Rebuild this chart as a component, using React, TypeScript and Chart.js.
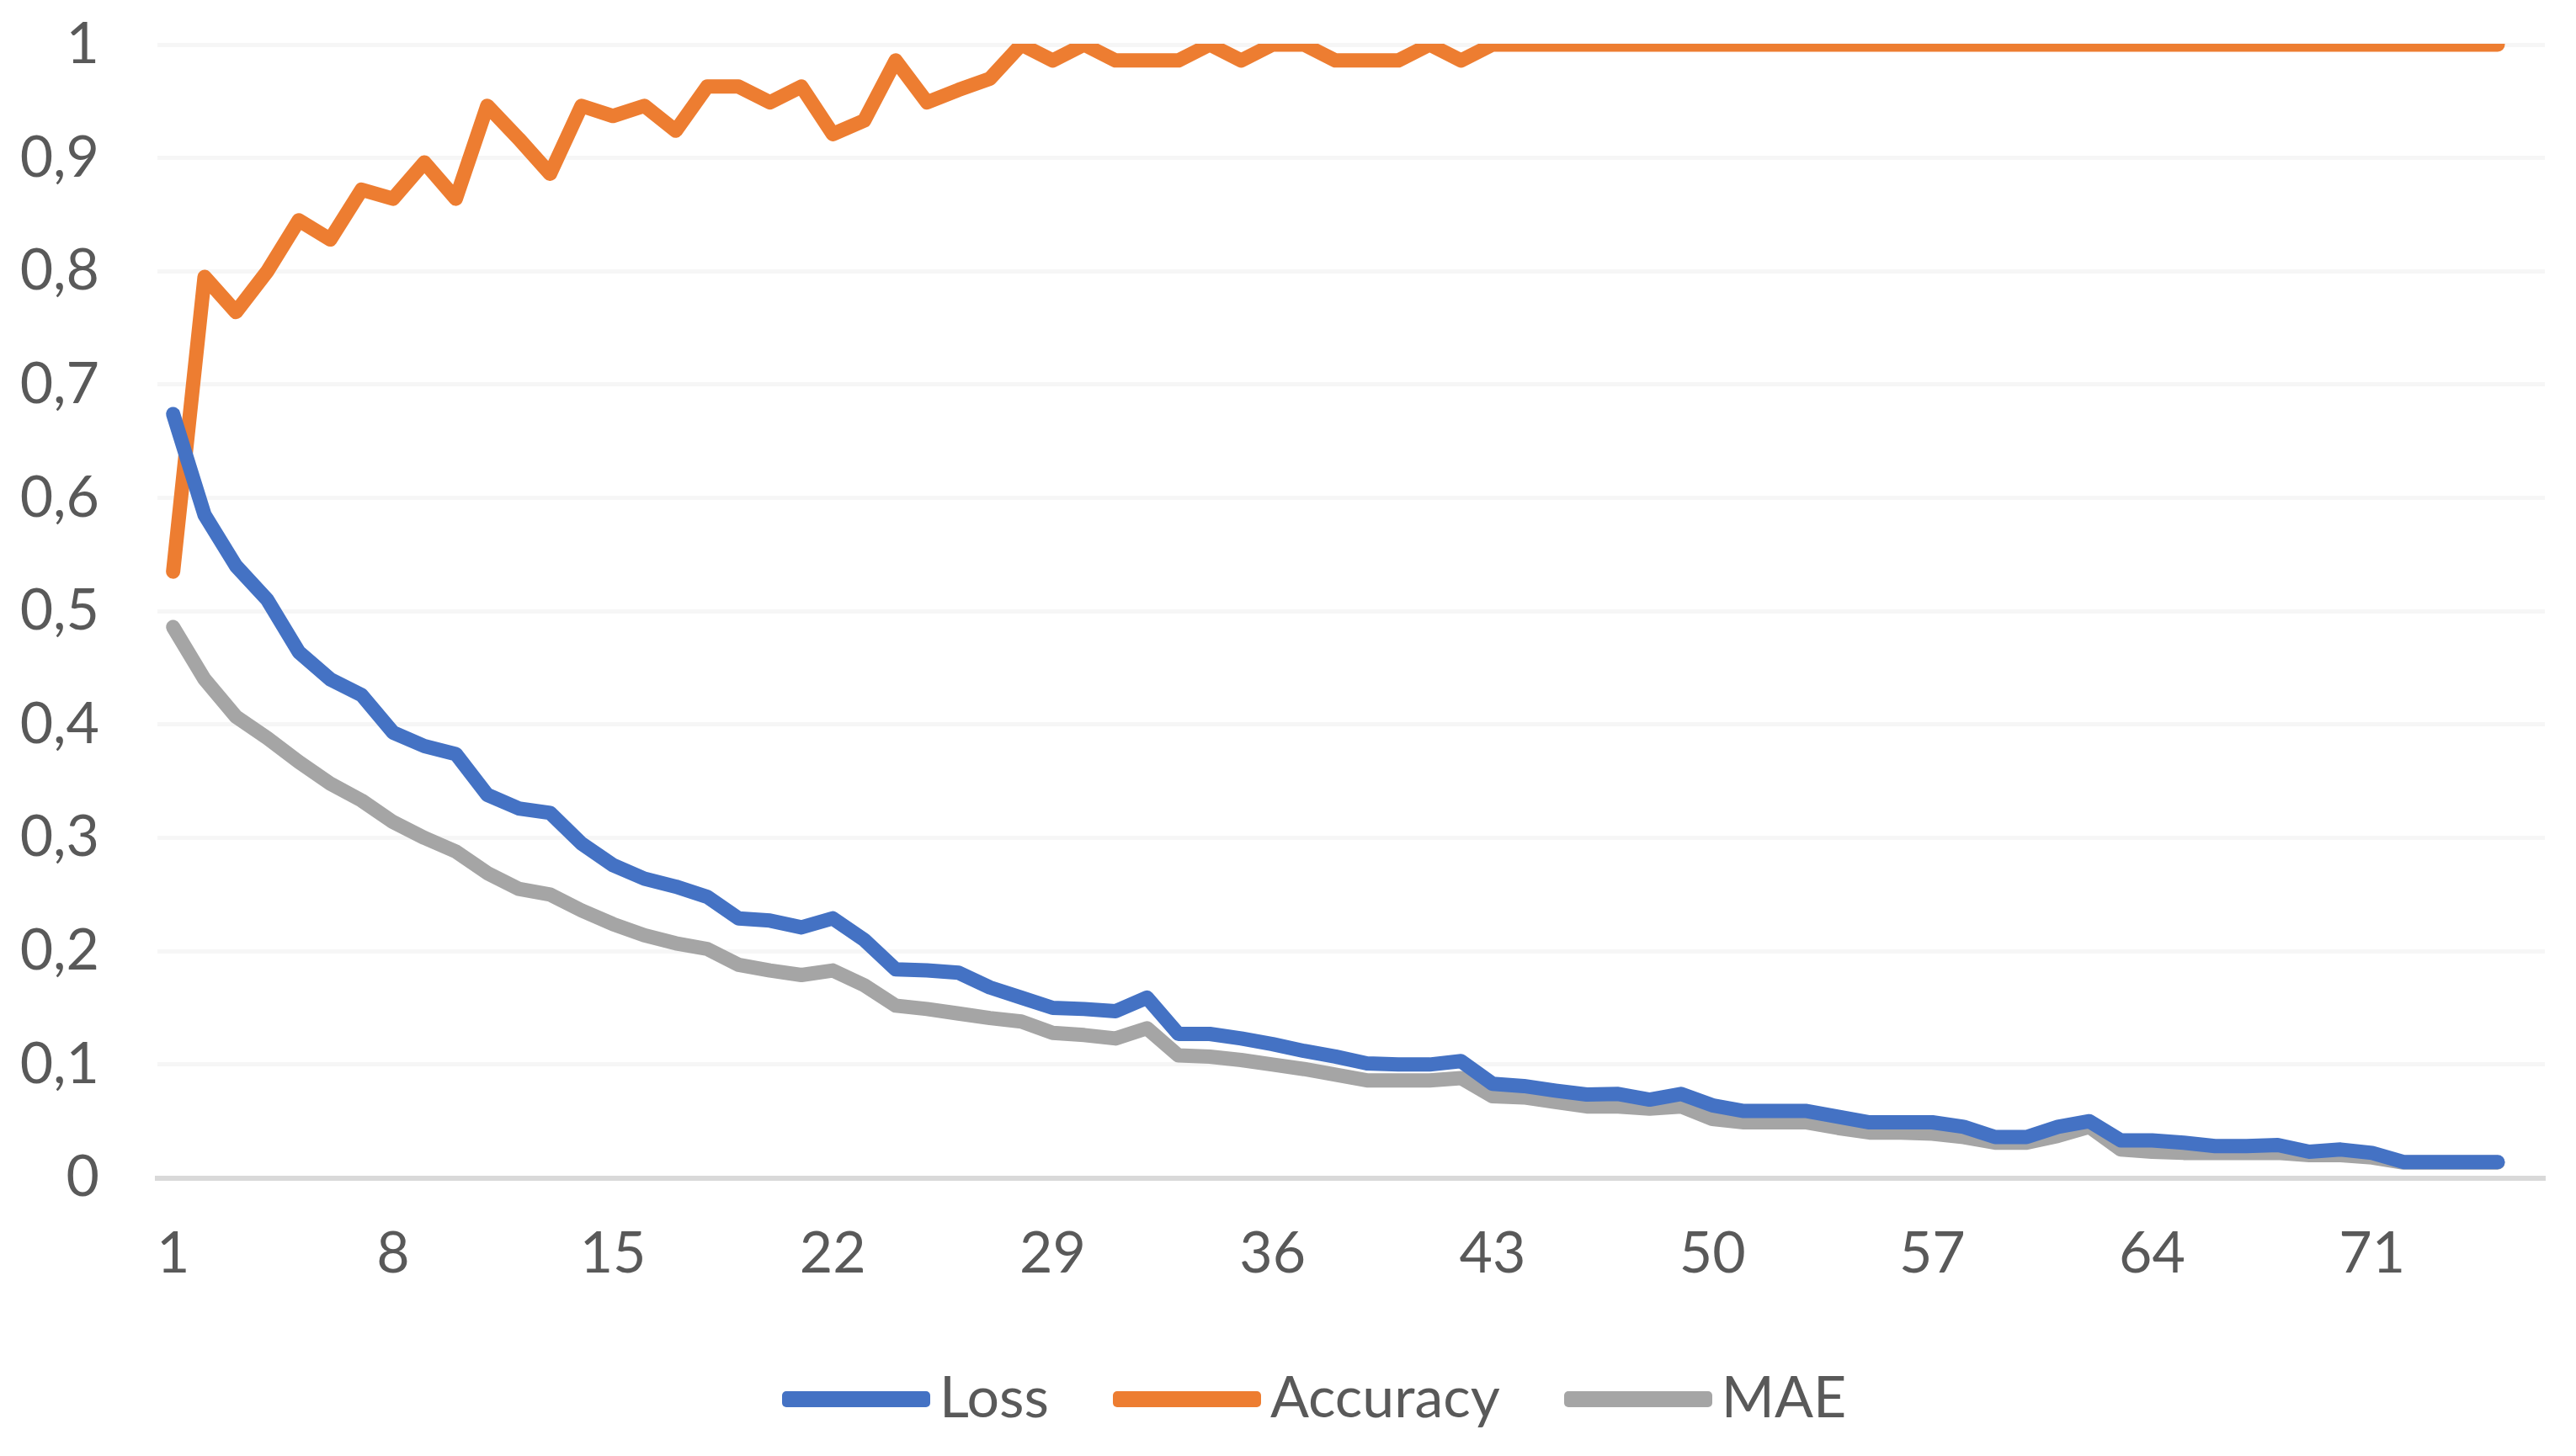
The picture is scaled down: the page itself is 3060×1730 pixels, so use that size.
import React, { useEffect, useRef } from 'react';
import { Chart, registerables } from 'chart.js';

Chart.register(...registerables);

// Categories (epochs) on the x axis
const epochs = [
  1, 2, 3, 4, 5, 6, 7, 8, 9, 10, 11, 12, 13, 14, 15, 16, 17, 18, 19, 20,
  21, 22, 23, 24, 25, 26, 27, 28, 29, 30, 31, 32, 33, 34, 35, 36, 37, 38, 39, 40,
  41, 42, 43, 44, 45, 46, 47, 48, 49, 50, 51, 52, 53, 54, 55, 56, 57, 58, 59, 60,
  61, 62, 63, 64, 65, 66, 67, 68, 69, 70, 71, 72, 73, 74, 75, 76,
];

// Which epochs get a visible tick label
const xTickEpochs = [1, 8, 15, 22, 29, 36, 43, 50, 57, 64, 71];

// Y tick labels (decimal comma)
const yTickLabels = ['0', '0,1', '0,2', '0,3', '0,4', '0,5', '0,6', '0,7', '0,8', '0,9', '1'];

const seriesNames = ['Loss', 'Accuracy', 'MAE'];
const seriesColors = ['#4472C4', '#ED7D31', '#A5A5A5'];

const loss = [
  0.674, 0.585, 0.540, 0.510, 0.464, 0.440, 0.426, 0.393, 0.381, 0.374,
  0.338, 0.326, 0.322, 0.295, 0.276, 0.264, 0.257, 0.248, 0.229, 0.227,
  0.221, 0.229, 0.210, 0.184, 0.183, 0.181, 0.168, 0.159, 0.150, 0.149,
  0.147, 0.159, 0.127, 0.127, 0.123, 0.118, 0.112, 0.107, 0.101, 0.100,
  0.100, 0.103, 0.083, 0.081, 0.077, 0.0735, 0.074, 0.069, 0.074, 0.064,
  0.059, 0.059, 0.059, 0.054, 0.049, 0.049, 0.049, 0.045, 0.036, 0.036,
  0.045, 0.050, 0.033, 0.033, 0.031, 0.028, 0.028, 0.029, 0.023, 0.025,
  0.022, 0.014, 0.014, 0.014, 0.014,
];

const accuracy = [
  0.535, 0.795, 0.764, 0.800, 0.845, 0.828, 0.872, 0.864, 0.896, 0.864,
  0.946, 0.917, 0.886, 0.946, 0.937, 0.946, 0.924, 0.963, 0.963, 0.949,
  0.963, 0.921, 0.933, 0.986, 0.949, 0.960, 0.970, 1.0, 0.986, 1.0,
  0.986, 0.986, 0.986, 1.0, 0.986, 1.0, 1.0, 0.986, 0.986, 0.986,
  1.0, 0.986, 1.0, 1.0, 1.0, 1.0, 1.0, 1.0, 1.0, 1.0,
  1.0, 1.0, 1.0, 1.0, 1.0, 1.0, 1.0, 1.0, 1.0, 1.0,
  1.0, 1.0, 1.0, 1.0, 1.0, 1.0, 1.0, 1.0, 1.0, 1.0,
  1.0, 1.0, 1.0, 1.0, 1.0,
];

const mae = [
  0.486, 0.440, 0.407, 0.388, 0.367, 0.348, 0.333, 0.314, 0.300, 0.288,
  0.269, 0.255, 0.250, 0.236, 0.224, 0.214, 0.207, 0.202, 0.188, 0.183,
  0.179, 0.183, 0.170, 0.152, 0.149, 0.145, 0.141, 0.138, 0.128, 0.126,
  0.123, 0.132, 0.108, 0.107, 0.104, 0.100, 0.096, 0.091, 0.086, 0.086,
  0.086, 0.088, 0.072, 0.071, 0.067, 0.063, 0.063, 0.061, 0.063, 0.052,
  0.049, 0.049, 0.049, 0.044, 0.040, 0.040, 0.039, 0.036, 0.031, 0.031,
  0.037, 0.045, 0.025, 0.023, 0.022, 0.022, 0.022, 0.022, 0.020, 0.020,
  0.018, 0.0135, 0.0135, 0.0135, 0.0135,
];

const seriesData = [loss, accuracy, mae];

const TEXT = '#595959';
const FONT = 'Lato';

export default function App() {
  const ref = useRef<HTMLCanvasElement | null>(null);

  useEffect(() => {
    const canvas = ref.current;
    if (!canvas) return;
    const chart = new Chart(canvas, {
      type: 'line',
      data: {
        labels: epochs.map(String),
        datasets: seriesNames.map((name, k) => ({
          label: name,
          data: seriesData[k],
          borderColor: seriesColors[k],
          backgroundColor: seriesColors[k],
          borderWidth: 17,
          pointRadius: 0,
          pointHoverRadius: 0,
          tension: 0,
          fill: false,
          borderJoinStyle: 'round' as const,
          borderCapStyle: 'round' as const,
          clip: { left: false, right: false, top: 1, bottom: false } as any,
        })),
      },
      options: {
        responsive: false,
        animation: false,
        devicePixelRatio: 1,
        layout: { padding: { top: 53, right: 37, left: 0, bottom: 0 } },
        plugins: {
          legend: { display: false },
          tooltip: { enabled: false },
        },
        scales: {
          x: {
            type: 'category',
            offset: true,
            grid: { display: false, drawTicks: false },
            border: { display: true, color: '#d9d9d9', width: 6 },
            ticks: {
              autoSkip: false,
              maxRotation: 0,
              minRotation: 0,
              padding: 50,
              color: TEXT,
              font: { family: FONT, size: 68 },
              callback: (_v: any, i: number) =>
                xTickEpochs.includes(epochs[i]) ? String(epochs[i]) : null,
            },
            afterFit: (s: any) => {
              s.height = 330.5;
              s.paddingLeft = 0;
              s.paddingRight = 0;
            },
          },
          y: {
            min: 0,
            max: 1,
            ticks: {
              stepSize: 0.1,
              padding: 69,
              color: TEXT,
              font: { family: FONT, size: 68 },
              callback: (_v: any, i: number) => yTickLabels[i],
            },
            grid: { color: '#f6f6f6', lineWidth: 5, drawTicks: false },
            border: { display: false },
            afterFit: (s: any) => {
              s.width = 187;
              s.paddingTop = 0;
              s.paddingBottom = 0;
            },
          },
        },
      },
    });
    return () => chart.destroy();
  }, []);

  return (
    <div
      style={{
        position: 'absolute',
        left: 0,
        top: 0,
        width: 3060,
        height: 1730,
        background: '#ffffff',
        overflow: 'hidden',
      }}
    >
      <canvas
        ref={ref}
        width={3060}
        height={1730}
        style={{ position: 'absolute', left: 0, top: 0, width: 3060, height: 1730 }}
      />
      <div
        style={{
          position: 'absolute',
          left: 929,
          top: 1618,
          height: 80,
          display: 'flex',
          alignItems: 'center',
          fontFamily: FONT,
          fontSize: 68,
          lineHeight: '68px',
          color: TEXT,
          whiteSpace: 'nowrap',
        }}
      >
        {seriesNames.map((name, k) => (
          <div
            key={name}
            style={{ display: 'flex', alignItems: 'center', marginRight: k < seriesNames.length - 1 ? 76 : 0 }}
          >
            <div
              style={{
                width: 176,
                height: 19,
                borderRadius: 5,
                background: seriesColors[k],
                marginRight: 11,
                marginTop: 8,
              }}
            />
            <span>{name}</span>
          </div>
        ))}
      </div>
    </div>
  );
}
